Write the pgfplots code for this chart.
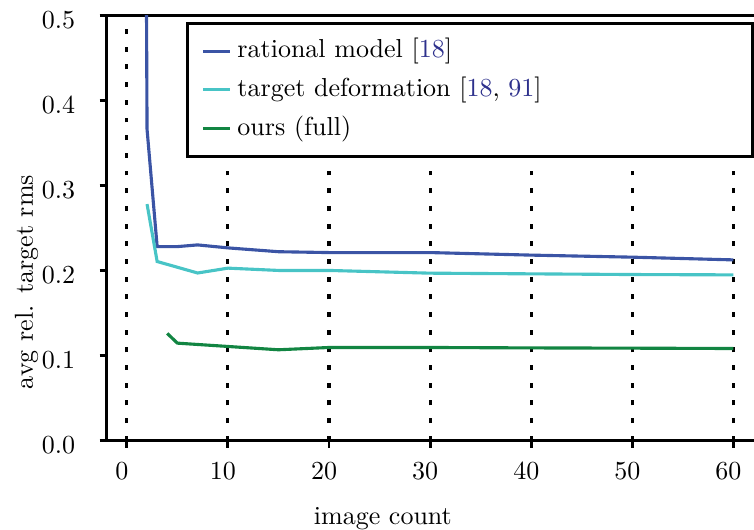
\documentclass[border=0pt]{standalone}
\usepackage{pgfplots}
\pgfplotsset{compat=1.18}
\definecolor{cblue}{RGB}{59,84,165}
\definecolor{ccyan}{RGB}{72,196,198}
\definecolor{cgreen}{RGB}{18,133,66}
\definecolor{citec}{RGB}{45,48,140}
\begin{document}
\begin{tikzpicture}
\useasboundingbox (0,0) rectangle (290pt,203.5pt);
\begin{axis}[
  at={(41pt,34pt)}, anchor=south west,
  scale only axis, width=251.2pt, height=163.7pt,
  xmin=-2, xmax=62.6, ymin=0, ymax=0.5,
  axis line style={line width=1.1pt},
  xtick={0,10,20,30,40,50,60},
  ytick={0,0.1,0.2,0.3,0.4,0.5},
  xtick pos=bottom, ytick pos=left,
  yticklabel style={xshift=-5.9pt, yshift=-1.8pt,
    /pgf/number format/fixed, /pgf/number format/fixed zerofill,
    /pgf/number format/precision=1},
  xticklabel style={yshift=-2.4pt, xshift=-1.9pt},
  tick align=outside, major tick length=2.7pt,
  tick style={line width=1.1pt, black},
  xmajorgrids,
  major x grid style={black, line width=1.2pt, dash pattern=on 1.9pt off 4.9pt},
  xlabel={image count},
  xlabel style={at={(axis description cs:0.423,-0.197)}, anchor=base},
  ylabel={avg rel. target rms},
  ylabel style={at={(axis description cs:-0.1226,0.3726)}, anchor=center},
  legend cell align=left,
  legend style={at={(axis description cs:0.1214,0.984)}, anchor=north west,
    draw=black, line width=1.1pt, fill=white,
    inner xsep=5.5pt, inner ysep=3.5pt, row sep=0.5pt,
    nodes={inner xsep=2.2pt, inner ysep=2.2pt, text height=7.5pt, text depth=2.5pt}},
  legend image code/.code={\draw[#1] (0pt,0pt) -- (10.4pt,0pt);},
]
\addplot[cblue, line width=1.2pt] coordinates {
 (1,3.0) (2,0.366) (3,0.228) (5,0.228) (7,0.230) (10,0.2265) (15,0.222)
 (20,0.221) (30,0.221) (40,0.218) (50,0.2156) (60,0.2124)};
\addlegendentry{\makebox[190.5pt][l]{rational model [\textcolor{citec}{18}]}}
\addplot[ccyan, line width=1.2pt] coordinates {
 (2,0.278) (3,0.2105) (7,0.197) (10,0.2027) (15,0.200) (20,0.200)
 (30,0.1968) (40,0.196) (50,0.1952) (60,0.1948)};
\addlegendentry{target deformation [\textcolor{citec}{18}, \textcolor{citec}{91}]}
\addplot[cgreen, line width=1.2pt] coordinates {
 (4,0.126) (5,0.1146) (10,0.1107) (15,0.1068) (20,0.1095) (30,0.1095)
 (40,0.109) (50,0.1087) (60,0.1083)};
\addlegendentry{ours (full)}
\end{axis}
\end{tikzpicture}
\end{document}
